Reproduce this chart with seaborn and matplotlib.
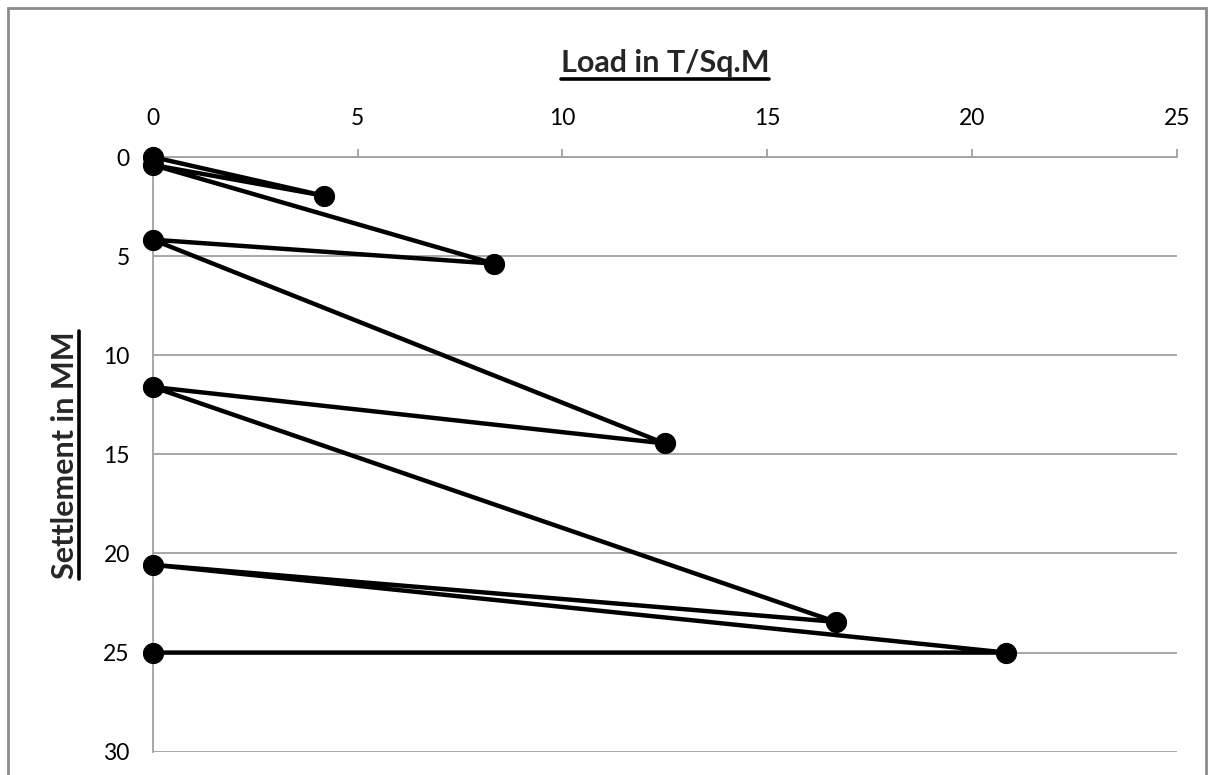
import matplotlib.pyplot as plt
import matplotlib.patches as patches
from matplotlib.lines import Line2D
import seaborn as sns
import pandas as pd

# Load cycles of the plate load test (loading / unloading)
load = [0, 4.17, 0, 8.33, 0, 12.5, 0, 16.67, 0, 20.83, 0]
settlement = [0, 1.95, 0.4, 5.38, 4.17, 14.45, 11.6, 23.45, 20.57, 25.0, 25.0]

x_ticks = [0, 5, 10, 15, 20, 25]
y_ticks = [0, 5, 10, 15, 20, 25, 30]

sns.set_style("white")
plt.rcParams['font.family'] = ['Lato', 'DejaVu Sans']

df = pd.DataFrame({'load': load, 'settlement': settlement})

W, H = 1210, 775
fig = plt.figure(figsize=(W / 100, H / 100), dpi=100)
ax = fig.add_axes([152.7 / W, 1 - 751.7 / H, (1177 - 152.7) / W, (751.7 - 157) / H])

sns.lineplot(data=df, x='load', y='settlement', sort=False, estimator=None,
             color='black', linewidth=3.2, marker='o', markersize=14.5,
             markeredgecolor='black', clip_on=False, ax=ax, zorder=3)

grid_c = '#a0a0a0'
ax.set_xlim(0, 25)
ax.set_ylim(30, 0)
ax.set_xticks(x_ticks)
ax.set_yticks(y_ticks)
ax.xaxis.tick_top()
ax.tick_params(axis='both', labelsize=16.5, colors=grid_c, labelcolor='black',
               direction='out', length=5.5, width=1.3)
ax.tick_params(axis='x', pad=15)
ax.tick_params(axis='y', pad=11)
ax.yaxis.grid(True, color=grid_c, linewidth=1.3)
ax.xaxis.grid(False)
for side in ['right', 'bottom']:
    ax.spines[side].set_visible(False)
for side in ['top', 'left']:
    ax.spines[side].set_color(grid_c)
    ax.spines[side].set_linewidth(1.3)
ax.set_xlabel('')
ax.set_ylabel('')

# axis titles, bold and underlined
cx = (152.7 + 1177) / 2 / W
t1 = fig.text(cx, 1 - 72 / H, 'Load in T/Sq.M', fontsize=22,
              fontweight='bold', ha='center', va='baseline')
t2 = fig.text(74 / W, 1 - 455 / H, 'Settlement in MM', fontsize=22,
              fontweight='bold', ha='center', va='baseline', rotation=90,
              rotation_mode='anchor')

fig.canvas.draw()
r = fig.canvas.get_renderer()
inv = fig.transFigure.inverted()
bb = t1.get_window_extent(r).transformed(inv)
fig.add_artist(Line2D([bb.x0, bb.x1], [1 - 79 / H, 1 - 79 / H],
                      transform=fig.transFigure, color='black', linewidth=2.6))
bb = t2.get_window_extent(r).transformed(inv)
fig.add_artist(Line2D([78.5 / W, 78.5 / W], [bb.y0, bb.y1],
                      transform=fig.transFigure, color='black', linewidth=2.6))

# chart area border
fig.add_artist(patches.Rectangle((8 / W, -0.05), 1198 / W, 1.05 - 8 / H,
                                 transform=fig.transFigure, fill=False,
                                 edgecolor='#8c8c8c', linewidth=2))

fig.savefig('out.png', dpi=100)
